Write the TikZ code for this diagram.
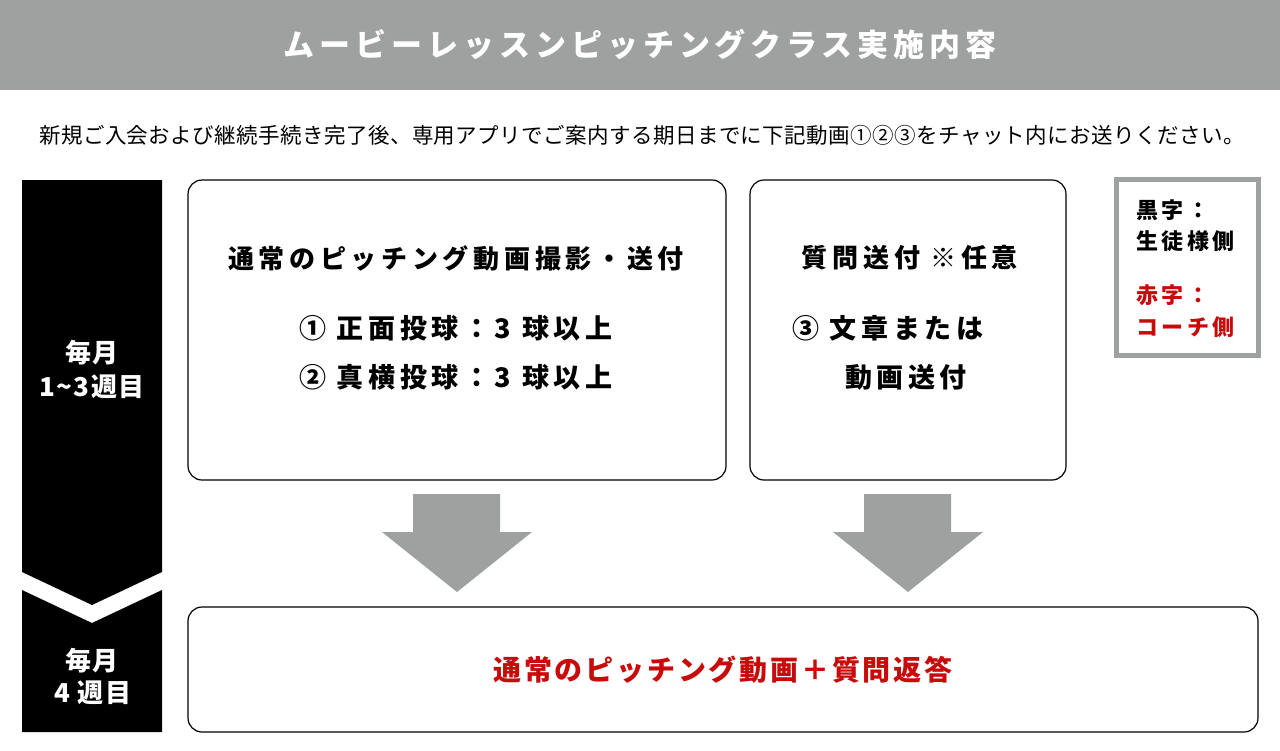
\documentclass[tikz,border=0pt]{standalone}
\usepackage{fontspec}
\setmainfont{Noto Sans CJK JP}
\setsansfont{Noto Sans CJK JP}
\newcommand\trk[1]{\addfontfeature{LetterSpace=#1}}
\newcommand\fsz[1]{\fontsize{#1}{#1}\selectfont}
\definecolor{bargray}{HTML}{9FA0A0}
\definecolor{redtxt}{HTML}{C80A0A}
\tikzset{
  box/.style={draw=black, line width=1.2pt, rounded corners=14pt},
  blockarrow/.style={fill=bargray, draw=none},
  bartext/.style={text=white, font=\fsz{26}\bfseries\trk{5}, align=center, inner sep=0pt},
  boxtitle/.style={font=\fsz{26}\bfseries\trk{18}, inner sep=0pt},
  boxline/.style={font=\fsz{27}\bfseries\trk{17}, inner sep=0pt},
  legtext/.style={font=\fsz{22}\bfseries\trk{16}, inner sep=0pt, anchor=west},
}
\begin{document}
\begin{tikzpicture}[x=1pt,y=-1pt]
\useasboundingbox (0,0) rectangle (1280,750);
\fill[white] (0,0) rectangle (1280,750);
% title bar
\fill[bargray] (0,0) rectangle (1280,90);
\node[text=white, font=\fsz{31}\bfseries\trk{16}, inner sep=0pt] (title) at (640,45) {ムービーレッスンピッチングクラス実施内容};
% subtitle
\node[font=\fsz{21.5}\trk{2}, inner sep=0pt] (sub) at (642,135) {新規ご入会および継続手続き完了後、専用アプリでご案内する期日までに下記動画①②③をチャット内にお送りください。};
% left bar
\fill[black] (22,180) -- (162,180) -- (162,572) -- (92,605) -- (22,572) -- cycle;
\fill[black] (22,590) -- (92,623) -- (162,590) -- (162,732) -- (22,732) -- cycle;
\node[bartext] (w13a) at (92,353) {毎月};
\node[bartext] (w13b) at (92,387) {1\textasciitilde 3週目};
\node[bartext] (w4a) at (92,661) {毎月};
\node[bartext] (w4b) at (93,693) {4 週目};
% boxes
\draw[box] (188,180) rectangle (726,480);
\draw[box] (750,180) rectangle (1066,480);
\draw[box] (188,607) rectangle (1258,732);
% left box text
\node[boxtitle] (lt) at (456,258) {通常のピッチング動画撮影・送付};
\node[boxline, anchor=west] (l1) at (299,328) {① 正面投球：3 球以上};
\node[boxline, anchor=west] (l2) at (299,377) {② 真横投球：3 球以上};
% right box text
\node[boxtitle] (rt) at (910,258) {質問送付 ※任意};
\node[boxline, anchor=west] (r1) at (792,328) {③ 文章または};
\node[boxline, anchor=west] (r2) at (845,377) {動画送付};
% bottom box text
\node[text=redtxt, font=\fsz{28}\bfseries\trk{10}, inner sep=0pt] (bt) at (723,670) {通常のピッチング動画＋質問返答};
% block arrows
\fill[blockarrow] (413,494) -- (500,494) -- (500,532) -- (532,532) -- (457,592) -- (382,532) -- (413,532) -- cycle;
\fill[blockarrow] (864,494) -- (951,494) -- (951,532) -- (983,532) -- (908,592) -- (833,532) -- (864,532) -- cycle;
% legend
\draw[draw=bargray, line width=5pt] (1116.5,179.5) rectangle (1258.5,355.5);
\node[legtext] (k1) at (1136,210) {黒字：};
\node[legtext] (k2) at (1136,241) {生徒様側};
\node[legtext, text=redtxt] (k3) at (1136,295) {赤字：};
\node[legtext, text=redtxt] (k4) at (1136,327) {コーチ側};
\end{tikzpicture}
\end{document}
